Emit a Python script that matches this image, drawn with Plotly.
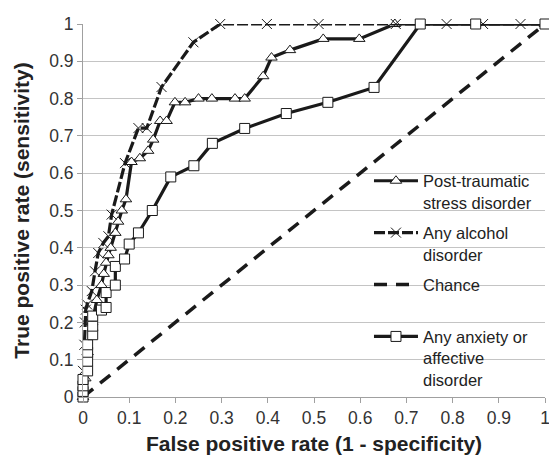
import plotly.graph_objects as go

# ---- data ----
ptsd_x = [0, 0.005, 0.01, 0.02, 0.03, 0.04, 0.045, 0.05, 0.055, 0.06, 0.07, 0.076, 0.084, 0.093,
          0.105, 0.123, 0.141, 0.152, 0.167, 0.181, 0.199, 0.221, 0.25, 0.279, 0.329, 0.35,
          0.39, 0.408, 0.448, 0.52, 0.598, 0.675, 1.0]
ptsd_y = [0, 0.05, 0.12, 0.2, 0.26, 0.3, 0.33, 0.36, 0.38, 0.4, 0.44, 0.47, 0.5, 0.53,
          0.63, 0.64, 0.66, 0.69, 0.74, 0.74, 0.79, 0.79, 0.80, 0.80, 0.80, 0.80,
          0.86, 0.91, 0.93, 0.96, 0.96, 1.0, 1.0]

alc_x = [0, 0, 0.003, 0.004, 0.006, 0.009, 0.019, 0.026, 0.033, 0.044, 0.055, 0.062, 0.091,
         0.12, 0.138, 0.17, 0.239, 0.297, 0.398, 0.51, 0.677, 0.787, 0.866, 0.947, 1.0]
alc_y = [0, 0.07, 0.14, 0.2, 0.234, 0.248, 0.284, 0.337, 0.386, 0.413, 0.431, 0.489, 0.627,
         0.721, 0.721, 0.831, 0.951, 1, 1, 1, 1, 1, 1, 1, 1]

chance_x = [0, 1]
chance_y = [0, 1]

anx_x = [0, 0, 0, 0, 0.01, 0.01, 0.01, 0.01, 0.021, 0.021, 0.021, 0.04, 0.05, 0.05, 0.07,
         0.07, 0.09, 0.1, 0.12, 0.15, 0.19, 0.24, 0.28, 0.35, 0.44, 0.53, 0.63, 0.73, 0.85, 1.0]
anx_y = [0, 0.015, 0.03, 0.047, 0.07, 0.096, 0.12, 0.14, 0.167, 0.19, 0.217, 0.233, 0.24, 0.28,
         0.3, 0.35, 0.37, 0.41, 0.44, 0.5, 0.59, 0.62, 0.68, 0.72, 0.76, 0.79, 0.83, 1.0, 1.0, 1.0]

tick_vals = [0, 0.1, 0.2, 0.3, 0.4, 0.5, 0.6, 0.7, 0.8, 0.9, 1]
tick_text = ["0", "0.1", "0.2", "0.3", "0.4", "0.5", "0.6", "0.7", "0.8", "0.9", "1"]

names = ["Post-traumatic<br>stress disorder", "Any alcohol<br>disorder", "Chance<br> ",
         "Any anxiety or<br>affective<br>disorder"]

LC = "#1a1a1a"
FONT = "Liberation Sans, Arial, sans-serif"

fig = go.Figure()
fig.add_trace(go.Scatter(
    x=ptsd_x, y=ptsd_y, name=names[0], legendgroup="a", mode="lines+markers",
    line=dict(color=LC, width=3.2),
    marker=dict(symbol="triangle-up", size=10, color="white", line=dict(color=LC, width=1)),
    cliponaxis=False))
fig.add_trace(go.Scatter(
    x=alc_x, y=alc_y, name=names[1], legendgroup="b", mode="lines+markers",
    line=dict(color=LC, width=3.2, dash="11px,3px"),
    marker=dict(symbol="x-thin", size=10, color=LC, line=dict(color=LC, width=1)),
    cliponaxis=False))
fig.add_trace(go.Scatter(
    x=chance_x, y=chance_y, name=names[2], legendgroup="c", mode="lines",
    line=dict(color=LC, width=3.5, dash="13px,9px"),
    cliponaxis=False))
fig.add_trace(go.Scatter(
    x=anx_x, y=anx_y, name=names[3], legendgroup="d", mode="lines+markers",
    line=dict(color=LC, width=3.2),
    marker=dict(symbol="square", size=10, color="white", line=dict(color=LC, width=1)),
    cliponaxis=False))

fig.update_layout(
    width=549, height=455,
    margin=dict(l=83, r=4, t=24, b=57.5, autoexpand=False),
    paper_bgcolor="white", plot_bgcolor="white",
    font=dict(family=FONT, color="#222"),
    legend=dict(x=0.619, y=0.626, xanchor="left", yanchor="top",
                bgcolor="rgba(0,0,0,0)", font=dict(size=16.5, color="#222", family=FONT),
                tracegroupgap=6, valign="top", itemwidth=44),
    xaxis=dict(range=[0, 1], tickvals=tick_vals, ticktext=tick_text, showgrid=False,
               zeroline=False, showline=True, linecolor="#a0a0a0", linewidth=1,
               ticks="outside", ticklen=5, tickcolor="#a0a0a0", automargin=False,
               ticklabeloverflow="allow",
               tickfont=dict(size=17.5, color="#333"),
               title=dict(text="<b>False positive rate (1 - specificity)</b>",
                          font=dict(size=21, color="#222"), standoff=13)),
    yaxis=dict(range=[0, 1], tickvals=tick_vals, ticktext=tick_text, showgrid=True,
               gridcolor="#c4c4c4", gridwidth=1, automargin=False,
               ticklabeloverflow="allow",
               zeroline=False, showline=True, linecolor="#a0a0a0", linewidth=1,
               ticks="outside", ticklen=5, tickcolor="#a0a0a0",
               tickfont=dict(size=17.5, color="#333"),
               title=dict(text="<b>True positive rate (sensitivity)</b>",
                          font=dict(size=21, color="#222"), standoff=13)),
)

fig.write_html("out.html", config={"displayModeBar": False},
               post_script="document.body.style.margin='0';document.body.style.overflow='hidden';")
